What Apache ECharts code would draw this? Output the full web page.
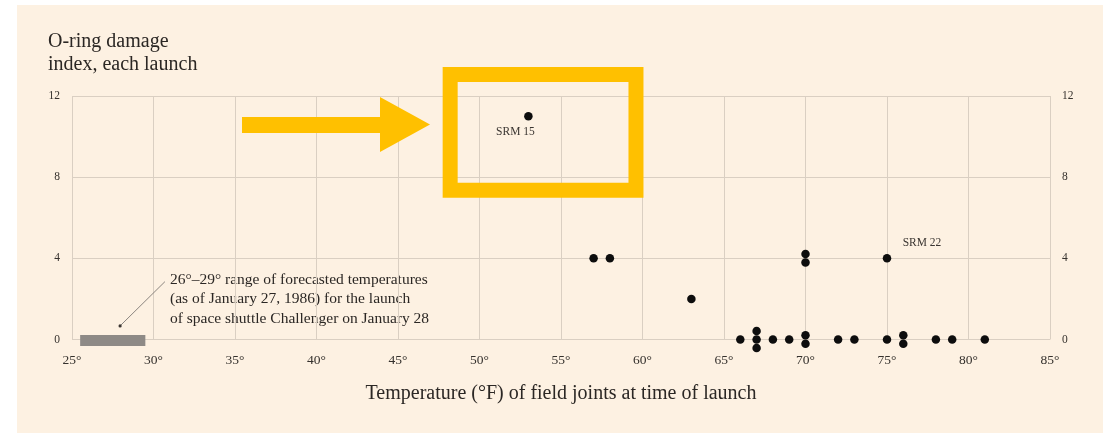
<!DOCTYPE html>
<html>
<head>
<meta charset="utf-8">
<script src="https://cdn.jsdelivr.net/npm/echarts@6/dist/echarts.min.js"></script>
<style>
  html, body { margin: 0; padding: 0; background: #ffffff; }
  #panel { position: absolute; left: 17px; top: 5px; width: 1086px; height: 428px; background: #fdf1e2; }
  #chart { position: absolute; left: 0; top: 0; width: 1103px; height: 434px; }
</style>
</head>
<body>
<div id="panel"></div>
<div id="chart"></div>
<script>
// Launch temperature (°F) and O-ring damage index for each shuttle launch
const launchTemps = [53, 57, 58, 63, 66, 67, 67, 67, 68, 69, 70, 70, 70, 70, 72, 73, 75, 75, 76, 76, 78, 79, 81];
const damageIndex = [11, 4, 4, 2, 0, 0, 0, 0, 0, 0, 4, 4, 0, 0, 0, 0, 4, 0, 0, 0, 0, 0, 0];

// Named booster flights
const srmNames = ['SRM 15', 'SRM 22'];
const srmTemps = [53, 75];
const srmDamage = [11, 4];

// Forecast for the Challenger launch
const forecastRange = [26, 29];

// Axis ticks
const xTicks = [25, 30, 35, 40, 45, 50, 55, 60, 65, 70, 75, 80, 85];
const yTicks = [0, 4, 8, 12];

const serif = '"Liberation Serif", "DejaVu Serif", serif';
const ink = '#2b2724';
const gridColor = '#dacfc2';
const highlight = '#ffc000';

// Where each flight label sits relative to its dot
const srmLabelOffset = { 'SRM 15': [-13, 16], 'SRM 22': [35, -15] };

// Spread launches that share a temperature and damage value into a vertical stack
const groupCounts = {};
launchTemps.forEach((t, i) => {
  const k = t + '|' + damageIndex[i];
  groupCounts[k] = (groupCounts[k] || 0) + 1;
});
const groupSeen = {};
const stackStep = 8.5;
const points = launchTemps.map((t, i) => {
  const d = damageIndex[i];
  const k = t + '|' + d;
  const n = groupCounts[k];
  const j = groupSeen[k] = (groupSeen[k] || 0) + 1;
  const dy = (j - 1 - (n - 1) / 2) * stackStep;
  const item = { value: [t, d], symbolOffset: [0, dy] };
  const s = srmTemps.findIndex((st, m) => st === t && srmDamage[m] === d);
  if (s >= 0) {
    item.label = {
      show: true,
      formatter: srmNames[s],
      position: 'inside',
      offset: srmLabelOffset[srmNames[s]],
      fontFamily: serif,
      fontSize: 11.5,
      color: '#3a3531'
    };
  }
  return item;
});

const chart = echarts.init(document.getElementById('chart'), null, { renderer: 'canvas' });

const yAxisBase = {
  type: 'value',
  min: yTicks[0],
  max: yTicks[yTicks.length - 1],
  interval: yTicks[1] - yTicks[0],
  axisLine: { show: false },
  axisTick: { show: false },
  axisLabel: { margin: 12, fontFamily: serif, fontSize: 11.5, color: '#35312d' }
};

const option = {
  backgroundColor: 'transparent',
  animation: false,
  title: {
    text: 'O-ring damage\nindex, each launch',
    left: 43,
    top: 25,
    textStyle: { fontFamily: serif, fontSize: 20, fontWeight: 'normal', color: ink, lineHeight: 23 }
  },
  grid: { left: 72, right: 53, top: 96, bottom: 94.5, containLabel: false },
  xAxis: {
    type: 'value',
    min: xTicks[0],
    max: xTicks[xTicks.length - 1],
    interval: xTicks[1] - xTicks[0],
    axisLine: { show: false },
    axisTick: { show: false },
    splitLine: { show: true, lineStyle: { color: gridColor, width: 1 } },
    axisLabel: { formatter: '{value}°', margin: 14, fontFamily: serif, fontSize: 13.5, color: '#35312d' },
    name: 'Temperature (°F) of field joints at time of launch',
    nameLocation: 'middle',
    nameGap: 44,
    nameTextStyle: { fontFamily: serif, fontSize: 20, color: ink }
  },
  yAxis: [
    Object.assign({}, yAxisBase, {
      position: 'left',
      splitLine: { show: true, lineStyle: { color: gridColor, width: 1 } }
    }),
    Object.assign({}, yAxisBase, {
      position: 'right',
      splitLine: { show: false }
    })
  ],
  graphic: [
    {
      type: 'text',
      left: 170,
      top: 270,
      style: {
        text: '26°–29° range of forecasted temperatures\n(as of January 27, 1986) for the launch\nof space shuttle Challenger on January 28',
        fontFamily: serif,
        fontSize: 15.5,
        lineHeight: 19.5,
        fill: ink
      }
    }
  ],
  series: [
    {
      // forecast range bar with its leader line; each whole degree spans a one-degree bin
      type: 'custom',
      silent: true,
      data: [forecastRange],
      renderItem: function (params, api) {
        const a = api.coord([api.value(0) - 0.5, 0]);
        const b = api.coord([api.value(1) + 0.5, 0]);
        const p0 = api.coord([27.95, 0.67]);
        const p1 = api.coord([30.7, 2.85]);
        return {
          type: 'group',
          children: [
            {
              type: 'rect',
              shape: { x: a[0], y: a[1] - 4.5, width: b[0] - a[0], height: 11 },
              style: { fill: '#8e8a86' }
            },
            {
              type: 'line',
              shape: { x1: p0[0], y1: p0[1], x2: p1[0], y2: p1[1] },
              style: { stroke: '#8a847e', lineWidth: 1 }
            },
            {
              type: 'circle',
              shape: { cx: p0[0], cy: p0[1], r: 1.6 },
              style: { fill: '#3a3531' }
            }
          ]
        };
      }
    },
    {
      // frame drawn around the SRM 15 flight
      type: 'custom',
      silent: true,
      clip: false,
      z: 3,
      data: [[srmTemps[0], srmDamage[0]]],
      renderItem: function (params, api) {
        const tl = api.coord([api.value(0) - 4.8, api.value(1) + 2.06]);
        const br = api.coord([api.value(0) + 6.6, api.value(1) - 3.64]);
        return {
          type: 'rect',
          shape: { x: tl[0], y: tl[1], width: br[0] - tl[0], height: br[1] - tl[1] },
          style: { fill: 'none', stroke: highlight, lineWidth: 15 }
        };
      }
    },
    {
      type: 'scatter',
      symbol: 'circle',
      symbolSize: 8.5,
      clip: false,
      itemStyle: { color: '#0d0d0d', opacity: 1 },
      emphasis: { disabled: true },
      data: points,
      z: 5,
      markLine: {
        silent: true,
        symbol: ['none', 'triangle'],
        symbolSize: [55, 50],
        label: { show: false },
        lineStyle: { color: highlight, width: 16, type: 'solid', cap: 'butt', opacity: 1 },
        emphasis: { disabled: true },
        data: [[{ coord: [35.43, 10.59] }, { coord: [45.43, 10.59] }]]
      }
    }
  ]
};

chart.setOption(option);
</script>
</body>
</html>
